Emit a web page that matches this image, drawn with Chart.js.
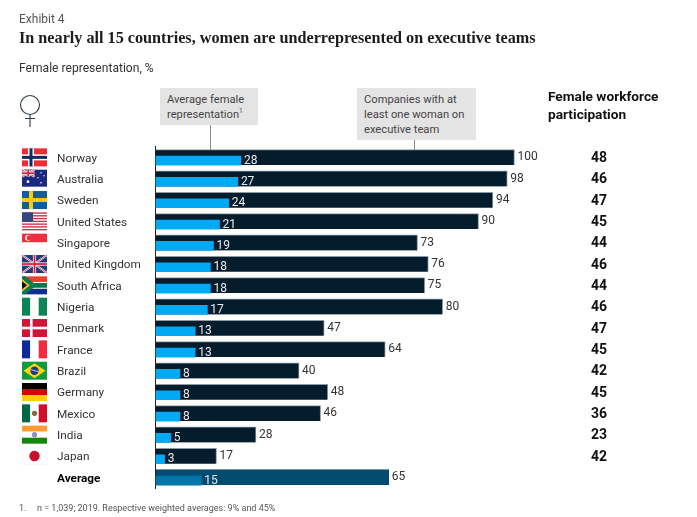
<!DOCTYPE html>
<html>
<head>
<meta charset="utf-8">
<script src="https://cdn.jsdelivr.net/npm/chart.js@4/dist/chart.umd.min.js"></script>
<style>
  html, body { margin: 0; padding: 0; background: #fff; }
  #wrap { position: relative; width: 697px; height: 517px; overflow: hidden; font-family: Roboto, sans-serif; color: #333; }
  canvas { position: absolute; left: 0; top: 0; }
  .t { position: absolute; white-space: nowrap; }
  .note { position: absolute; background: #e4e4e4; font-size: 11.2px; line-height: 15px; color: #444; padding: 4px 7px; box-sizing: border-box; }
  .lead { position: absolute; width: 1px; background: #8a8a8a; }
  sup { font-size: 6.5px; line-height: 0; }
</style>
</head>
<body>
<div id="wrap">
  <canvas id="chart" width="697" height="517"></canvas>
  <div class="t" style="left:19px;top:12px;font-size:12px;color:#555">Exhibit 4</div>
  <div class="t" style="left:19px;top:29px;font:bold 16.2px 'Liberation Serif',serif;color:#1c1c1c">In nearly all 15 countries, women are underrepresented on executive teams</div>
  <div class="t" style="left:19px;top:61px;font-size:12.1px">Female representation, %</div>
  <svg style="position:absolute;left:15px;top:90px" width="32" height="40">
    <g fill="none" stroke="#2b3a44" stroke-width="1.1">
      <circle cx="15" cy="15" r="9.5"/>
      <path d="M15 24.5V37M10 28.5H20"/>
    </g>
  </svg>
  <div class="note" style="left:160px;top:88px;width:98px;height:37px">Average female<br>representation<sup>1</sup></div>
  <div class="lead" style="left:210px;top:125px;height:25px"></div>
  <div class="note" style="left:357px;top:88px;width:119px;height:52px">Companies with at<br>least one woman on<br>executive team</div>
  <div class="lead" style="left:414px;top:140px;height:10px"></div>
  <div class="t" style="left:548px;top:87px;font-size:13.7px;line-height:18px;font-weight:700;color:#111">Female workforce<br>participation</div>
  <div class="t" style="left:19px;top:503px;font-size:9px;color:#555">1.</div>
  <div class="t" style="left:37px;top:503px;font-size:9px;color:#555">n = 1,039; 2019. Respective weighted averages: 9% and 45%</div>
</div>
<script>
const countries = ['Norway','Australia','Sweden','United States','Singapore','United Kingdom','South Africa','Nigeria','Denmark','France','Brazil','Germany','Mexico','India','Japan','Average'];
const avgFemale = [28,27,24,21,19,18,18,17,13,13,8,8,8,5,3,15];
const companies = [100,98,94,90,73,76,75,80,47,64,40,48,46,28,17,65];
const workforce = [48,46,47,45,44,46,44,46,47,45,42,45,36,23,42,null];

const LAST = countries.length - 1;

// flags are drawn in a 25x18 box
function flag(ctx, name) {
  const r = (c, x, y, w, h) => { ctx.fillStyle = c; ctx.fillRect(x, y, w, h); };
  const line = (c, w, pts) => {
    ctx.strokeStyle = c; ctx.lineWidth = w; ctx.beginPath();
    pts.forEach((p, i) => i ? ctx.lineTo(p[0], p[1]) : ctx.moveTo(p[0], p[1]));
    ctx.stroke();
  };
  const dot = (c, x, y, rad) => { ctx.fillStyle = c; ctx.beginPath(); ctx.arc(x, y, rad, 0, Math.PI * 2); ctx.fill(); };
  const union = (w, h) => {
    r('#1f3a7d', 0, 0, w, h);
    line('#fff', 2, [[0,0],[w,h]]); line('#fff', 2, [[w,0],[0,h]]);
    line('#d8213a', 0.8, [[0,0],[w,h]]); line('#d8213a', 0.8, [[w,0],[0,h]]);
    r('#fff', w/2-1.6, 0, 3.2, h); r('#fff', 0, h/2-1.6, w, 3.2);
    r('#d8213a', w/2-0.9, 0, 1.8, h); r('#d8213a', 0, h/2-0.9, w, 1.8);
  };
  if (name === 'Norway') {
    r('#ef2b33',0,0,25,18); r('#fff',6,0,6,18); r('#fff',0,6,25,6);
    r('#14285f',7.5,0,3,18); r('#14285f',0,7.5,25,3);
  } else if (name === 'Australia') {
    r('#1a2a80',0,0,25,17); union(12.5,7);
    dot('#fff',6,12,1.4); dot('#fff',19,3,.7); dot('#fff',22,6,.7); dot('#fff',16,8,.7); dot('#fff',19,13,.8);
  } else if (name === 'Sweden') {
    r('#0c5f9c',0,0,25,18); r('#fcc90b',7,0,4,18); r('#fcc90b',0,7,25,4);
  } else if (name === 'United States') {
    r('#fff',0,0,25,18);
    for (let i = 0; i < 7; i++) r('#c8324a',0,i*2.77,25,1.38);
    r('#34487f',0,0,11,9.6);
  } else if (name === 'Singapore') {
    r('#f4f4f4',0,0,25,18); r('#fff',.6,9,23.8,8.4); r('#ef2f3f',0,0,25,8.5);
    dot('#fff',6,4.2,2.8); dot('#ef2f3f',7,4.2,2.4);
  } else if (name === 'United Kingdom') {
    union(25,18);
  } else if (name === 'South Africa') {
    r('#e8412a',0,0,25,9); r('#0e2f8f',0,9,25,9);
    ctx.fillStyle = '#fff'; ctx.beginPath(); ctx.moveTo(0,-1); ctx.lineTo(11,9); ctx.lineTo(0,19); ctx.fill();
    r('#fff',9,5.6,16,6.8); r('#0a7a4d',10,6.6,15,4.8);
    ctx.save(); ctx.beginPath(); ctx.rect(0,0,25,18); ctx.clip();
    line('#0a7a4d',4.4,[[0,0],[11,9],[0,18]]);
    ctx.restore();
    ctx.fillStyle = '#f4b81c'; ctx.beginPath(); ctx.moveTo(0,3); ctx.lineTo(7.5,9); ctx.lineTo(0,15); ctx.fill();
    ctx.fillStyle = '#111'; ctx.beginPath(); ctx.moveTo(0,5); ctx.lineTo(5,9); ctx.lineTo(0,13); ctx.fill();
  } else if (name === 'Nigeria') {
    r('#0b8457',0,0,8.3,18); r('#fff',8.3,0,8.4,18); r('#0b8457',16.7,0,8.3,18);
  } else if (name === 'Denmark') {
    r('#d2143a',0,0,25,18); r('#fff',8,0,2.6,18); r('#fff',0,7.7,25,2.6);
  } else if (name === 'France') {
    r('#0f2a9c',0,0,8.3,18); r('#fff',8.3,0,8.4,18); r('#f42a41',16.7,0,8.3,18);
  } else if (name === 'Brazil') {
    r('#0f9b3e',0,0,25,18);
    ctx.fillStyle = '#fdd50e'; ctx.beginPath(); ctx.moveTo(12.5,1.5); ctx.lineTo(23.5,9); ctx.lineTo(12.5,16.5); ctx.lineTo(1.5,9); ctx.fill();
    dot('#1a3b86',12.5,9,4.2);
    line('#fff',.7,[[8.5,8],[16.5,10]]);
  } else if (name === 'Germany') {
    r('#000',0,0,25,6); r('#dd0000',0,6,25,6); r('#ffce00',0,12,25,6);
  } else if (name === 'Mexico') {
    r('#006847',0,0,8.3,18); r('#fff',8.3,0,8.4,18); r('#ce1126',16.7,0,8.3,18);
    dot('#8a6a3a',12.5,9,2.6); dot('#5c7a4a',12.5,10.5,1.2);
  } else if (name === 'India') {
    r('#ff9933',0,0,25,6); r('#fff',0,6,25,6); r('#138808',0,12,25,6);
    dot('#8d8cc4',12.5,9,2.6);
  } else if (name === 'Japan') {
    r('#f4f4f4',0,0,25,18); r('#fff',.6,.6,23.8,16.8); dot('#c8102e',12.5,9,5.2);
  }
}

// blue bars sit a little lower than the dark ones, so their axis is nudged down
const shiftBlue = {
  id: 'shiftBlue',
  afterLayout(chart) {
    const s = chart.scales.y2;
    s.top += 3.25; s.bottom += 3.25;
    s.configure();
  }
};

const extras = {
  id: 'extras',
  afterDatasetsDraw(chart) {
    const { ctx, scales } = chart;
    ctx.save();
    ctx.textBaseline = 'middle';
    countries.forEach((name, i) => {
      const yDark = scales.y.getPixelForValue(i);
      const yBlue = scales.y2.getPixelForValue(i);
      ctx.font = '12px Roboto, sans-serif';
      ctx.textAlign = 'left';
      ctx.fillStyle = '#e8ecef';
      ctx.fillText(avgFemale[i], scales.x2.getPixelForValue(avgFemale[i]) + 3, yBlue);
      ctx.fillStyle = '#333';
      ctx.fillText(companies[i], scales.x.getPixelForValue(companies[i]) + 3, yDark);
      if (workforce[i] !== null) {
        ctx.font = 'bold 14px Roboto, sans-serif';
        ctx.textAlign = 'center';
        ctx.fillStyle = '#111';
        ctx.fillText(workforce[i], 599, yDark + 1);
      }
      if (i !== LAST) {
        ctx.save();
        ctx.translate(22, yDark - 9);
        flag(ctx, name);
        ctx.restore();
      }
    });
    ctx.restore();
  }
};

new Chart(document.getElementById('chart'), {
  type: 'bar',
  plugins: [shiftBlue, extras],
  data: {
    labels: countries,
    datasets: [
      {
        label: 'Average female representation',
        data: avgFemale,
        xAxisID: 'x2',
        yAxisID: 'y2',
        order: 0,
        grouped: false,
        barThickness: 9,
        backgroundColor: countries.map((c, i) => i === LAST ? '#0076aa' : '#00a9f4')
      },
      {
        label: 'Companies with at least one woman on executive team',
        data: companies,
        xAxisID: 'x',
        yAxisID: 'y',
        order: 1,
        grouped: false,
        barThickness: 15.5,
        backgroundColor: countries.map((c, i) => i === LAST ? '#044b70' : '#051c2c'),
        borderColor: countries.map((c, i) => i === LAST ? '#044b70' : '#8d9aa4'),
        borderWidth: { top: 1, right: 1, bottom: 0, left: 0 },
        borderSkipped: false
      }
    ]
  },
  options: {
    indexAxis: 'y',
    responsive: false,
    animation: false,
    layout: { padding: { left: 57, right: 4.5, top: 146.7, bottom: 29 } },
    plugins: { legend: { display: false }, tooltip: { enabled: false } },
    scales: {
      x: { display: false, min: 0, max: 149.6 },
      x2: { display: false, min: 0, max: 176 },
      y2: { type: 'category', display: false },
      y: {
        type: 'category',
        afterFit(scale) { scale.width = 98.5; },
        grid: { display: false, drawTicks: false },
        border: { display: true, color: '#222', width: 1 },
        ticks: {
          crossAlign: 'far',
          padding: 0,
          autoSkip: false,
          labelOffset: 1.5,
          color: ctx => ctx.index === LAST ? '#000' : '#333',
          font: ctx => ({ family: 'Roboto, sans-serif', size: 11.8, weight: ctx.index === LAST ? 'bold' : 'normal' })
        }
      }
    }
  }
});
</script>
</body>
</html>
